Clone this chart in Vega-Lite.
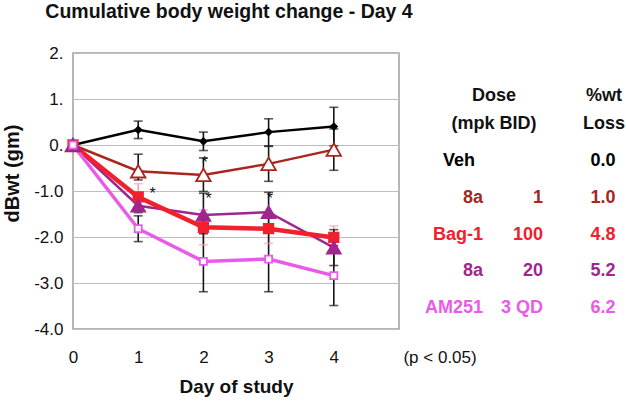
{
  "$schema": "https://vega.github.io/schema/vega-lite/v6.json",
  "autosize": "none",
  "width": 326,
  "height": 276,
  "padding": {"left": 73, "top": 53, "right": 227, "bottom": 72},
  "background": "white",
  "config": {
    "font": "Liberation Sans",
    "view": {"stroke": "#a0a0a0", "strokeWidth": 1.5},
    "text": {"font": "Liberation Sans"}
  },
  "title": {
    "text": "Cumulative body weight change - Day 4",
    "font": "Liberation Sans",
    "fontSize": 19.5,
    "fontWeight": "bold",
    "color": "#111111",
    "anchor": "middle",
    "frame": "group",
    "dx": -7,
    "offset": 7,
    "baseline": "alphabetic"
  },
  "datasets": {
    "lines": [
      {"series": "Veh", "day": 0, "dbw": 0},
      {"series": "Veh", "day": 1, "dbw": 0.33},
      {"series": "Veh", "day": 2, "dbw": 0.08},
      {"series": "Veh", "day": 3, "dbw": 0.28},
      {"series": "Veh", "day": 4, "dbw": 0.40},
      {"series": "8a 1", "day": 0, "dbw": 0},
      {"series": "8a 1", "day": 1, "dbw": -0.57},
      {"series": "8a 1", "day": 2, "dbw": -0.65},
      {"series": "8a 1", "day": 3, "dbw": -0.41},
      {"series": "8a 1", "day": 4, "dbw": -0.10},
      {"series": "8a 20", "day": 0, "dbw": 0},
      {"series": "8a 20", "day": 1, "dbw": -1.32},
      {"series": "8a 20", "day": 2, "dbw": -1.52},
      {"series": "8a 20", "day": 3, "dbw": -1.46},
      {"series": "8a 20", "day": 4, "dbw": -2.23},
      {"series": "Bag-1 100", "day": 0, "dbw": 0},
      {"series": "Bag-1 100", "day": 1, "dbw": -1.13},
      {"series": "Bag-1 100", "day": 2, "dbw": -1.79},
      {"series": "Bag-1 100", "day": 3, "dbw": -1.82},
      {"series": "Bag-1 100", "day": 4, "dbw": -2.01},
      {"series": "AM251 3 QD", "day": 0, "dbw": 0},
      {"series": "AM251 3 QD", "day": 1, "dbw": -1.82},
      {"series": "AM251 3 QD", "day": 2, "dbw": -2.53},
      {"series": "AM251 3 QD", "day": 3, "dbw": -2.48},
      {"series": "AM251 3 QD", "day": 4, "dbw": -2.84}
    ],
    "points": [
      {"series": "Veh", "day": 0, "dbw": 0},
      {"series": "Veh", "day": 1, "dbw": 0.33},
      {"series": "Veh", "day": 2, "dbw": 0.08},
      {"series": "Veh", "day": 3, "dbw": 0.28},
      {"series": "Veh", "day": 4, "dbw": 0.40},
      {"series": "8a 1", "day": 0, "dbw": 0},
      {"series": "8a 1", "day": 1, "dbw": -0.57},
      {"series": "8a 1", "day": 2, "dbw": -0.65},
      {"series": "8a 1", "day": 3, "dbw": -0.41},
      {"series": "8a 1", "day": 4, "dbw": -0.10},
      {"series": "Bag-1 100", "day": 0, "dbw": 0},
      {"series": "Bag-1 100", "day": 1, "dbw": -1.13},
      {"series": "Bag-1 100", "day": 2, "dbw": -1.79},
      {"series": "Bag-1 100", "day": 3, "dbw": -1.82},
      {"series": "Bag-1 100", "day": 4, "dbw": -2.01},
      {"series": "8a 20", "day": 0, "dbw": 0},
      {"series": "8a 20", "day": 1, "dbw": -1.32},
      {"series": "8a 20", "day": 2, "dbw": -1.52},
      {"series": "8a 20", "day": 3, "dbw": -1.46},
      {"series": "8a 20", "day": 4, "dbw": -2.23},
      {"series": "AM251 3 QD", "day": 0, "dbw": 0},
      {"series": "AM251 3 QD", "day": 1, "dbw": -1.82},
      {"series": "AM251 3 QD", "day": 2, "dbw": -2.53},
      {"series": "AM251 3 QD", "day": 3, "dbw": -2.48},
      {"series": "AM251 3 QD", "day": 4, "dbw": -2.84}
    ],
    "errors": [
      {"series": "Veh", "day": 1, "lo": 0.14, "hi": 0.52},
      {"series": "Veh", "day": 2, "lo": -0.12, "hi": 0.28},
      {"series": "Veh", "day": 3, "lo": -0.02, "hi": 0.57},
      {"series": "Veh", "day": 4, "lo": -0.02, "hi": 0.82},
      {"series": "8a 1", "day": 1, "lo": -0.76, "hi": -0.20},
      {"series": "8a 1", "day": 2, "lo": -1.01, "hi": -0.28},
      {"series": "8a 1", "day": 3, "lo": -0.79, "hi": -0.03},
      {"series": "8a 1", "day": 4, "lo": -0.55, "hi": 0.35},
      {"series": "Bag-1 100", "day": 1, "lo": -1.42, "hi": -0.84},
      {"series": "Bag-1 100", "day": 2, "lo": -2.17, "hi": -1.41},
      {"series": "Bag-1 100", "day": 3, "lo": -2.14, "hi": -1.50},
      {"series": "Bag-1 100", "day": 4, "lo": -2.28, "hi": -1.76},
      {"series": "8a 20", "day": 1, "lo": -1.47, "hi": -1.17},
      {"series": "8a 20", "day": 2, "lo": -1.93, "hi": -1.05},
      {"series": "8a 20", "day": 3, "lo": -1.90, "hi": -1.03},
      {"series": "8a 20", "day": 4, "lo": -2.62, "hi": -1.84},
      {"series": "AM251 3 QD", "day": 1, "lo": -2.10, "hi": -1.54},
      {"series": "AM251 3 QD", "day": 2, "lo": -3.19, "hi": -1.87},
      {"series": "AM251 3 QD", "day": 3, "lo": -3.19, "hi": -1.77},
      {"series": "AM251 3 QD", "day": 4, "lo": -3.49, "hi": -2.19}
    ],
    "stars": [
      {"day": 1.22, "dbw": -0.975, "label": "*"},
      {"day": 2.08, "dbw": -1.08, "label": "*"},
      {"day": 2.02, "dbw": -0.31, "label": "*"},
      {"day": 3.02, "dbw": -1.08, "label": "*"}
    ],
    "note": [
      {"day": 5.63, "dbw": -4.62, "label": "(p < 0.05)"}
    ],
    "header": [
      {"col": "dose", "line": "1", "text": "Dose"},
      {"col": "dose", "line": "2", "text": "(mpk BID)"},
      {"col": "loss", "line": "1", "text": "%wt"},
      {"col": "loss", "line": "2", "text": "Loss"}
    ],
    "table": [
      {"series": "Veh", "col": "name", "text": "Veh"},
      {"series": "Veh", "col": "loss", "text": "0.0"},
      {"series": "8a 1", "col": "name", "text": "8a"},
      {"series": "8a 1", "col": "dose", "text": "1"},
      {"series": "8a 1", "col": "loss", "text": "1.0"},
      {"series": "Bag-1 100", "col": "name", "text": "Bag-1"},
      {"series": "Bag-1 100", "col": "dose", "text": "100"},
      {"series": "Bag-1 100", "col": "loss", "text": "4.8"},
      {"series": "8a 20", "col": "name", "text": "8a"},
      {"series": "8a 20", "col": "dose", "text": "20"},
      {"series": "8a 20", "col": "loss", "text": "5.2"},
      {"series": "AM251 3 QD", "col": "name", "text": "AM251"},
      {"series": "AM251 3 QD", "col": "dose", "text": "3 QD"},
      {"series": "AM251 3 QD", "col": "loss", "text": "6.2"}
    ]
  },
  "layer": [
    {
      "layer": [
        {
          "mark": {"type": "rule", "color": "#000000", "strokeWidth": 2.5},
          "encoding": {
            "y": {
              "datum": 0,
              "type": "quantitative",
              "scale": {"domain": [-4, 2], "nice": false, "zero": false},
              "axis": {
                "values": [-4, -3, -2, -1, 0, 1, 2],
                "title": "dBwt (gm)",
                "titleFont": "Liberation Sans",
                "titleFontSize": 20,
                "titleFontWeight": "bold",
                "titleColor": "#111111",
                "titlePadding": 11,
                "titleY": 120,
                "labelFont": "Liberation Sans",
                "labelFontSize": 17,
                "labelColor": "#111111",
                "labelPadding": 10,
                "labelExpr": "datum.value >= 0 ? format(datum.value, 'd') + '.\u00a0\u00a0\u00a0\u00a0' : '-' + format(-datum.value, '.1f')",
                "ticks": false,
                "domain": false,
                "grid": true,
                "gridColor": "#bdbdbd",
                "gridWidth": 1
              }
            }
          }
        },
        {
          "data": {"name": "lines"},
          "mark": {"type": "line"},
          "encoding": {
            "x": {
              "field": "day",
              "type": "quantitative",
              "scale": {"domain": [0, 5], "nice": false, "zero": false},
              "axis": {
                "values": [0, 1, 2, 3, 4],
                "format": "d",
                "title": "Day of study",
                "titleFont": "Liberation Sans",
                "titleFontSize": 19,
                "titleFontWeight": "bold",
                "titleColor": "#111111",
                "titlePadding": 12,
                "labelFont": "Liberation Sans",
                "labelFontSize": 17,
                "labelColor": "#111111",
                "labelPadding": 20,
                "labelFlush": false,
                "ticks": false,
                "domain": false,
                "grid": false
              }
            },
            "y": {"field": "dbw", "type": "quantitative"},
            "color": {
              "field": "series",
              "type": "nominal",
              "scale": {
                "domain": ["Veh", "8a 1", "Bag-1 100", "8a 20", "AM251 3 QD"],
                "range": ["#000000", "#a8261e", "#f0202c", "#a0268e", "#ea5aea"]
              },
              "legend": null
            },
            "strokeWidth": {
              "field": "series",
              "type": "nominal",
              "scale": {
                "type": "ordinal",
                "domain": ["Veh", "8a 1", "Bag-1 100", "8a 20", "AM251 3 QD"],
                "range": [2.5, 2.5, 4.5, 2.5, 3.5]
              },
              "legend": null
            },
            "order": {"field": "day"}
          }
        },
        {
          "data": {"name": "errors"},
          "mark": {"type": "rule", "strokeWidth": 1.6},
          "encoding": {
            "x": {"field": "day", "type": "quantitative"},
            "y": {"field": "lo", "type": "quantitative"},
            "y2": {"field": "hi"},
            "color": {
              "condition": {"test": "datum.series === 'Bag-1 100'", "value": "#f4a3b6"},
              "value": "#151515"
            }
          }
        },
        {
          "data": {"name": "errors"},
          "mark": {"type": "tick", "orient": "horizontal", "size": 9, "thickness": 1.6},
          "encoding": {
            "x": {"field": "day", "type": "quantitative"},
            "y": {"field": "lo", "type": "quantitative"},
            "color": {
              "condition": {"test": "datum.series === 'Bag-1 100'", "value": "#f4a3b6"},
              "value": "#151515"
            }
          }
        },
        {
          "data": {"name": "errors"},
          "mark": {"type": "tick", "orient": "horizontal", "size": 9, "thickness": 1.6},
          "encoding": {
            "x": {"field": "day", "type": "quantitative"},
            "y": {"field": "hi", "type": "quantitative"},
            "color": {
              "condition": {"test": "datum.series === 'Bag-1 100'", "value": "#f4a3b6"},
              "value": "#151515"
            }
          }
        },
        {
          "data": {"name": "points"},
          "mark": {"type": "point", "filled": true, "opacity": 1, "strokeWidth": 1.8},
          "encoding": {
            "x": {"field": "day", "type": "quantitative"},
            "y": {"field": "dbw", "type": "quantitative"},
            "shape": {
              "field": "series",
              "type": "nominal",
              "scale": {
                "domain": ["Veh", "8a 1", "Bag-1 100", "8a 20", "AM251 3 QD"],
                "range": ["diamond", "triangle-up", "square", "triangle-up", "square"]
              },
              "legend": null
            },
            "size": {
              "field": "series",
              "type": "nominal",
              "scale": {
                "type": "ordinal",
                "domain": ["Veh", "8a 1", "Bag-1 100", "8a 20", "AM251 3 QD"],
                "range": [40, 210, 90, 190, 50]
              },
              "legend": null
            },
            "fill": {
              "field": "series",
              "type": "nominal",
              "scale": {
                "domain": ["Veh", "8a 1", "Bag-1 100", "8a 20", "AM251 3 QD"],
                "range": ["#000000", "#ffffff", "#f0202c", "#a0268e", "#ffffff"]
              },
              "legend": null
            },
            "stroke": {
              "field": "series",
              "type": "nominal",
              "scale": {
                "domain": ["Veh", "8a 1", "Bag-1 100", "8a 20", "AM251 3 QD"],
                "range": ["#000000", "#a8261e", "#f0202c", "#a0268e", "#ea5aea"]
              },
              "legend": null
            }
          }
        },
        {
          "data": {"name": "stars"},
          "mark": {"type": "text", "fontSize": 16, "baseline": "alphabetic", "dy": 9, "color": "#151515", "font": "Liberation Sans"},
          "encoding": {
            "x": {"field": "day", "type": "quantitative"},
            "y": {"field": "dbw", "type": "quantitative"},
            "text": {"field": "label"}
          }
        },
        {
          "data": {"name": "note"},
          "mark": {"type": "text", "fontSize": 17, "baseline": "middle", "align": "center", "color": "#111111", "font": "Liberation Sans"},
          "encoding": {
            "x": {"field": "day", "type": "quantitative"},
            "y": {"field": "dbw", "type": "quantitative"},
            "text": {"field": "label"}
          }
        }
      ]
    },
    {
      "layer": [
        {
          "data": {"name": "header"},
          "mark": {"type": "text", "fontSize": 18, "fontWeight": "bold", "align": "center", "baseline": "middle", "color": "#111111", "font": "Liberation Sans"},
          "encoding": {
            "x": {"field": "col", "type": "ordinal", "scale": {"type": "point", "domain": ["dose", "loss"], "range": [421, 531], "padding": 0}, "axis": null},
            "y": {"field": "line", "type": "ordinal", "scale": {"type": "point", "domain": ["1", "2"], "range": [43, 71], "padding": 0}, "axis": null},
            "text": {"field": "text"}
          }
        },
        {
          "layer": [
            {
              "data": {"name": "table"},
              "transform": [{"filter": "datum.col !== 'loss' && datum.series !== 'Veh'"}],
              "mark": {"type": "text", "fontSize": 18, "fontWeight": "bold", "align": "right", "baseline": "middle", "font": "Liberation Sans"},
              "encoding": {
                "x": {"field": "col", "type": "ordinal", "scale": {"type": "point", "domain": ["name", "dose", "loss"], "range": [410, 530], "padding": 0}, "axis": null},
                "y": {"field": "series", "type": "ordinal", "scale": {"type": "point", "domain": ["Veh", "8a 1", "Bag-1 100", "8a 20", "AM251 3 QD"], "range": [108, 255], "padding": 0}, "axis": null},
                "text": {"field": "text"},
                "color": {
                  "field": "series",
                  "type": "nominal",
                  "scale": {
                    "domain": ["Veh", "8a 1", "Bag-1 100", "8a 20", "AM251 3 QD"],
                    "range": ["#000000", "#a8261e", "#f0202c", "#a0268e", "#ea5aea"]
                  },
                  "legend": null
                }
              }
            },
            {
              "data": {"name": "table"},
              "transform": [{"filter": "datum.col === 'name' && datum.series === 'Veh'"}],
              "mark": {"type": "text", "fontSize": 18, "fontWeight": "bold", "align": "right", "baseline": "middle", "dx": -8, "font": "Liberation Sans"},
              "encoding": {
                "x": {"field": "col", "type": "ordinal", "axis": null},
                "y": {"field": "series", "type": "ordinal", "axis": null},
                "text": {"field": "text"},
                "color": {"field": "series", "type": "nominal", "legend": null}
              }
            },
            {
              "data": {"name": "table"},
              "transform": [{"filter": "datum.col === 'loss'"}],
              "mark": {"type": "text", "fontSize": 18, "fontWeight": "bold", "align": "center", "baseline": "middle", "font": "Liberation Sans"},
              "encoding": {
                "x": {"field": "col", "type": "ordinal", "axis": null},
                "y": {"field": "series", "type": "ordinal", "axis": null},
                "text": {"field": "text"},
                "color": {"field": "series", "type": "nominal", "legend": null}
              }
            }
          ]
        }
      ],
      "resolve": {"scale": {"x": "independent", "y": "independent"}}
    }
  ],
  "resolve": {"scale": {"x": "independent", "y": "independent"}}
}
